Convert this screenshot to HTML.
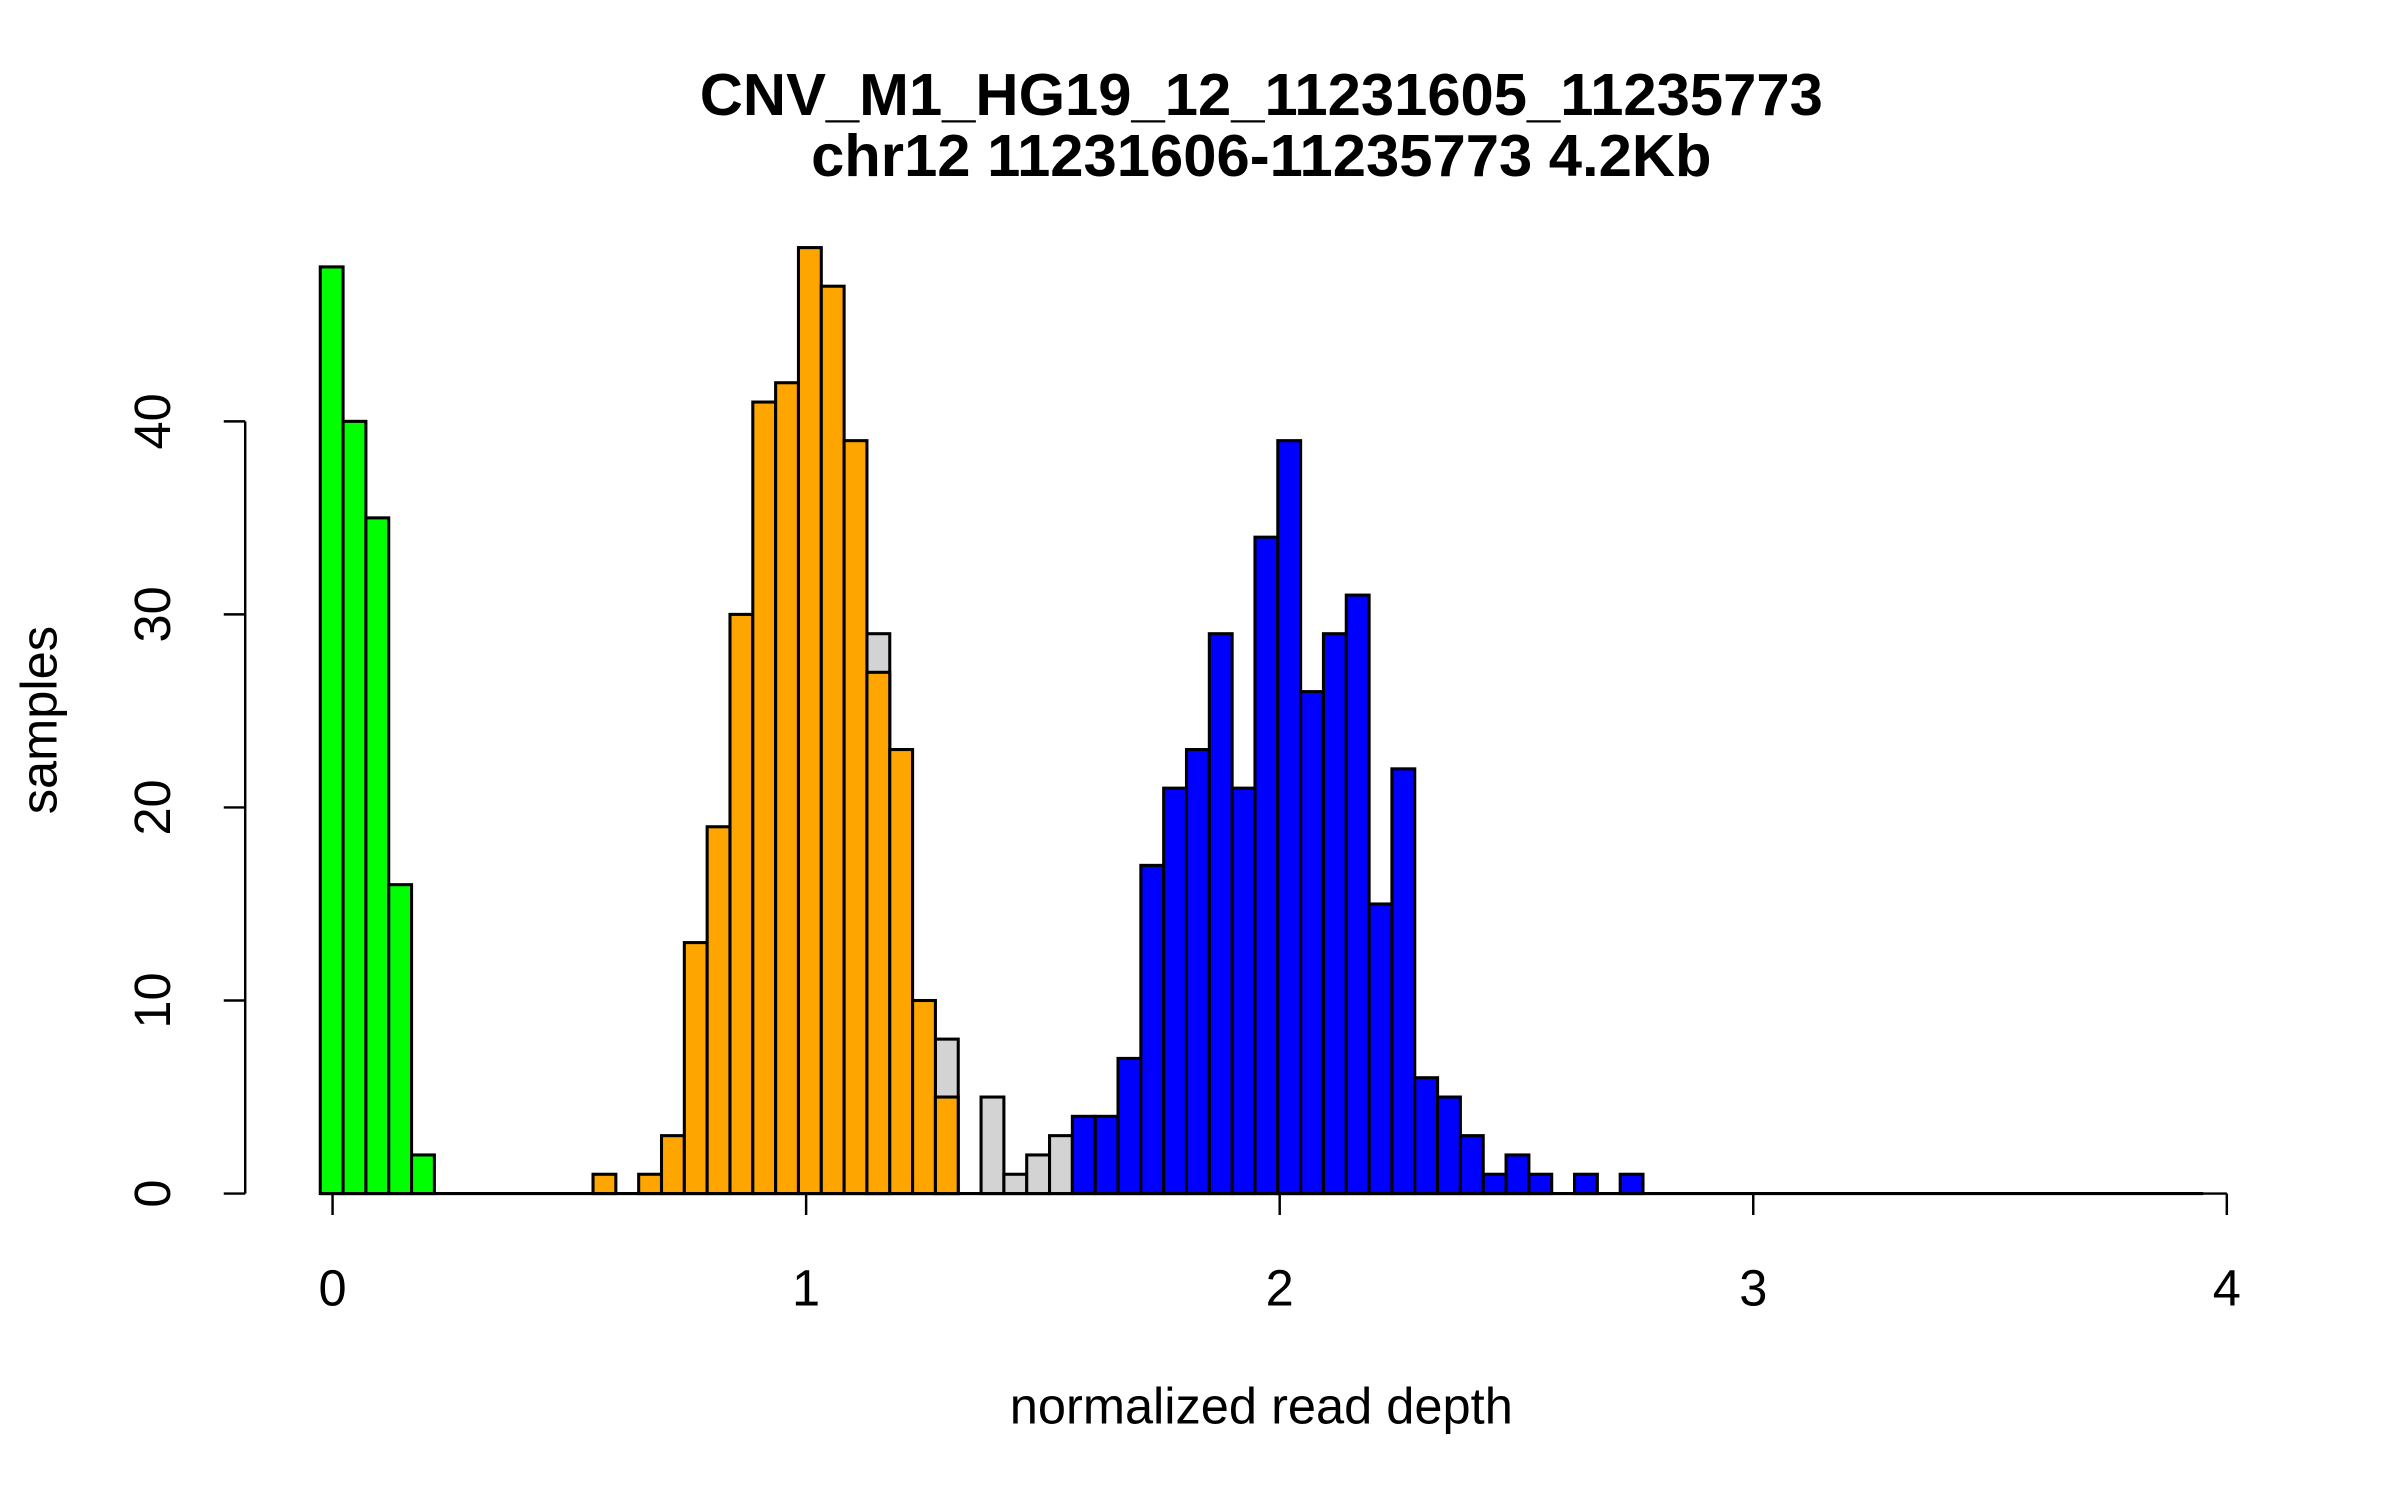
<!DOCTYPE html>
<html><head><meta charset="utf-8"><style>
html,body{margin:0;padding:0;background:#fff;}
svg{display:block;}
text{font-family:"Liberation Sans",Arial,sans-serif;fill:#000;}
</style></head><body>
<svg id="chart" width="2400" height="1500" viewBox="0 0 1566 979" preserveAspectRatio="none" xmlns="http://www.w3.org/2000/svg">
<text x="823" y="75" font-size="39" font-weight="bold" text-anchor="middle">CNV_M1_HG19_12_11231605_11235773</text>
<text x="823" y="115" font-size="39" font-weight="bold" text-anchor="middle">chr12 11231606-11235773 4.2Kb</text>
<text x="823" y="929" font-size="33" text-anchor="middle">normalized read depth</text>
<text transform="translate(37,470) rotate(-90)" font-size="33" text-anchor="middle">samples</text>
<g id="bars"></g>
<g id="axes"></g>
</svg>
<script>
const greenBins = [0, 1, 2, 3, 4];
const greenCounts = [48, 40, 35, 16, 2];
const greyBins = [12, 15, 17, 18, 19, 20];
const greyCounts = [29, 8, 5, 1, 2, 3];
const orangeBins = [0, 2, 3, 4, 5, 6, 7, 8, 9, 10, 11, 12, 13, 14, 15];
const orangeCounts = [1, 1, 3, 13, 19, 30, 41, 42, 49, 47, 39, 27, 23, 10, 5];
const blueBins = [21,22,23,24,25,26,27,28,29,30,31,32,33,34,35,36,37,38,39,40,41,43,45];
const blueCounts = [4,4,7,17,21,23,29,21,34,39,26,29,31,15,22,6,5,3,1,2,1,1,1];
const xTicks = [0, 1, 2, 3, 4];
const yTicks = [0, 10, 20, 30, 40];
const binWidth = 0.0482;
const greenOrigin = -0.026;
const mainOrigin = 0.550;

const X0 = 217, XS = 309, Y0 = 779, YS = 12.6;
function sx(v){ return X0 + v*XS; }
function sy(v){ return Y0 - v*YS; }
const NS = "http://www.w3.org/2000/svg";
const barsG = document.getElementById('bars');
const axesG = document.getElementById('axes');

const base = document.createElementNS(NS,'line');
base.setAttribute('x1', sx(greenOrigin)); base.setAttribute('x2', sx(3.95));
base.setAttribute('y1', Y0); base.setAttribute('y2', Y0);
base.setAttribute('stroke','#000'); base.setAttribute('stroke-width','2');


barsG.appendChild(base);

function drawBars(origin, bins, counts, color, name){
  for (let i=0;i<counts.length;i++){
    const s = origin + bins[i]*binWidth;
    const r = document.createElementNS(NS,'rect');
    r.setAttribute('x', sx(s));
    r.setAttribute('width', binWidth*XS);
    r.setAttribute('y', sy(counts[i]));
    r.setAttribute('height', counts[i]*YS);
    r.setAttribute('fill', color);
    r.setAttribute('stroke', '#000');
    r.setAttribute('stroke-width', '2');
    
    
    barsG.appendChild(r);
  }
}
drawBars(mainOrigin, greyBins, greyCounts, '#d3d3d3', 'bar-grey');
drawBars(greenOrigin, greenBins, greenCounts, '#00ff00', 'bar-green');
drawBars(mainOrigin, orangeBins, orangeCounts, '#ffa500', 'bar-orange');
drawBars(mainOrigin, blueBins, blueCounts, '#0000ff', 'bar-blue');

const xl = document.createElementNS(NS,'line');
xl.setAttribute('x1', sx(xTicks[0])); xl.setAttribute('x2', sx(xTicks[xTicks.length-1]));
xl.setAttribute('y1', Y0); xl.setAttribute('y2', Y0);
xl.setAttribute('stroke','#000'); xl.setAttribute('stroke-width','1.6');


axesG.appendChild(xl);
xTicks.forEach(t=>{
  const l = document.createElementNS(NS,'line');
  l.setAttribute('x1', sx(t)); l.setAttribute('x2', sx(t));
  l.setAttribute('y1', Y0); l.setAttribute('y2', Y0+14);
  l.setAttribute('stroke','#000'); l.setAttribute('stroke-width','1.6');
  
  
  axesG.appendChild(l);
  const tx = document.createElementNS(NS,'text');
  tx.setAttribute('x', sx(t)); tx.setAttribute('y', 852);
  tx.setAttribute('font-size','33'); tx.setAttribute('text-anchor','middle');
  tx.textContent = t;
  
  
  axesG.appendChild(tx);
});
const yl = document.createElementNS(NS,'line');
yl.setAttribute('x1', 160); yl.setAttribute('x2', 160);
yl.setAttribute('y1', sy(yTicks[0])); yl.setAttribute('y2', sy(yTicks[yTicks.length-1]));
yl.setAttribute('stroke','#000'); yl.setAttribute('stroke-width','1.6');


axesG.appendChild(yl);
yTicks.forEach(t=>{
  const l = document.createElementNS(NS,'line');
  l.setAttribute('x1', 146); l.setAttribute('x2', 160);
  l.setAttribute('y1', sy(t)); l.setAttribute('y2', sy(t));
  l.setAttribute('stroke','#000'); l.setAttribute('stroke-width','1.6');
  
  
  axesG.appendChild(l);
  const tx = document.createElementNS(NS,'text');
  tx.setAttribute('transform', 'translate(111,' + sy(t) + ') rotate(-90)');
  tx.setAttribute('font-size','33'); tx.setAttribute('text-anchor','middle');
  tx.textContent = t;
  
  
  axesG.appendChild(tx);
});
</script>
</body></html>
